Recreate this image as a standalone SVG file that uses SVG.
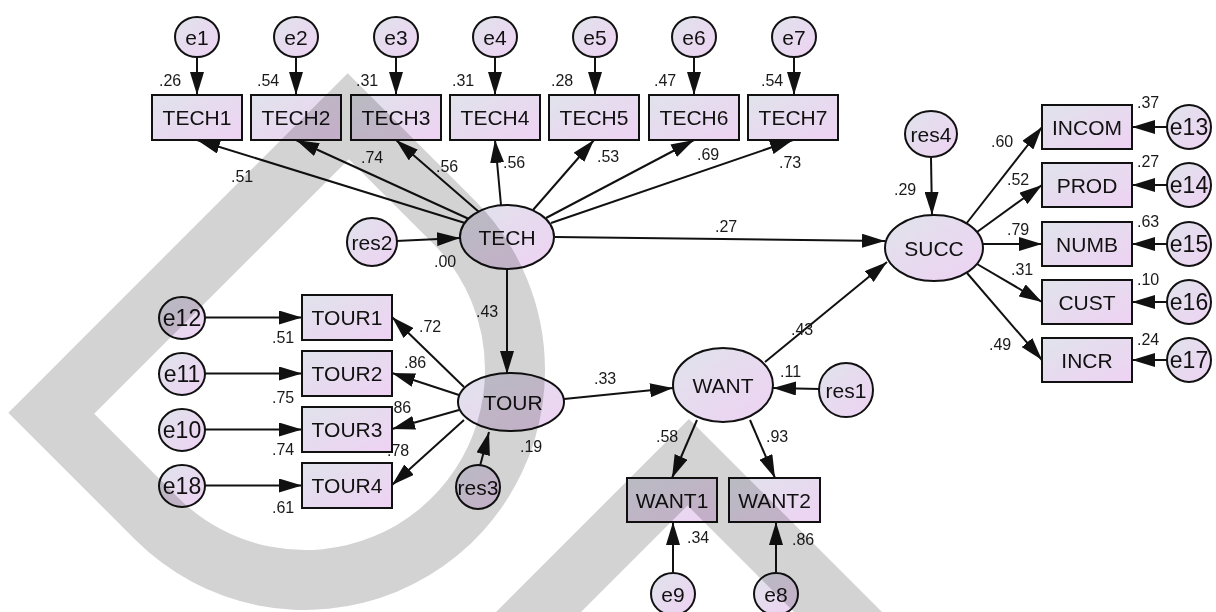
<svg xmlns="http://www.w3.org/2000/svg" width="1216" height="612" viewBox="0 0 1216 612">
  <defs>
    <linearGradient id="fillG" x1="0" y1="0" x2="1" y2="1">
      <stop offset="0" stop-color="#e0e3eb"/>
      <stop offset="1" stop-color="#eed2f3"/>
    </linearGradient>
    <marker id="ah" markerUnits="userSpaceOnUse" markerWidth="23" markerHeight="14" refX="23" refY="7" orient="auto">
      <path d="M0,0 L23,7 L0,14 Z" fill="#111"/>
    </marker>
    <style>
      .n { fill: url(#fillG); stroke: #111; stroke-width: 2; }
      .t { font-family: "Liberation Sans", Arial, sans-serif; fill: #111; text-anchor: middle; }
      .bx { font-size: 21px; }
      .el { font-size: 21px; }
      .ci { font-size: 21px; }
      .cw { font-size: 23px; }
      .c { stroke: #111; stroke-width: 2; fill: none; marker-end: url(#ah); }
      .v { font-family: "Liberation Sans", Arial, sans-serif; font-size: 16px; fill: #1a1a1a; }
      .wm { fill: #d3d3d3; mix-blend-mode: multiply; }
    </style>
  </defs>

  <rect width="1216" height="612" fill="#ffffff"/>

  <!-- connectors -->
  <g id="connectors">
    <!-- error terms onto TECH indicators -->
    <line class="c" x1="197" y1="57" x2="197" y2="95"/>
    <line class="c" x1="296" y1="57" x2="296" y2="95"/>
    <line class="c" x1="396" y1="57" x2="396" y2="95"/>
    <line class="c" x1="495" y1="57" x2="495" y2="95"/>
    <line class="c" x1="595" y1="57" x2="595" y2="95"/>
    <line class="c" x1="694" y1="57" x2="694" y2="95"/>
    <line class="c" x1="794" y1="57" x2="794" y2="95"/>
    <!-- TECH loadings -->
    <line class="c" x1="465" y1="223" x2="197" y2="140"/>
    <line class="c" x1="469" y1="219" x2="296" y2="140"/>
    <line class="c" x1="479" y1="212" x2="396" y2="140"/>
    <line class="c" x1="501" y1="205" x2="495" y2="140"/>
    <line class="c" x1="533" y1="210" x2="594" y2="140"/>
    <line class="c" x1="546" y1="218" x2="694" y2="140"/>
    <line class="c" x1="551" y1="223" x2="793" y2="140"/>
    <!-- structural paths -->
    <line class="c" x1="396" y1="241" x2="460" y2="238"/>
    <line class="c" x1="555" y1="237" x2="885" y2="241"/>
    <line class="c" x1="507" y1="269" x2="507" y2="374"/>
    <line class="c" x1="564" y1="399" x2="673" y2="388"/>
    <line class="c" x1="480" y1="466" x2="489" y2="432"/>
    <line class="c" x1="820" y1="389" x2="773" y2="388"/>
    <line class="c" x1="765" y1="362" x2="887" y2="262"/>
    <line class="c" x1="931" y1="158" x2="932" y2="215"/>
    <!-- TOUR loadings -->
    <line class="c" x1="464" y1="387" x2="392" y2="317"/>
    <line class="c" x1="459" y1="395" x2="392" y2="373"/>
    <line class="c" x1="459" y1="410" x2="392" y2="429"/>
    <line class="c" x1="464" y1="420" x2="392" y2="485"/>
    <line class="c" x1="205" y1="317.5" x2="302" y2="317.5"/>
    <line class="c" x1="205" y1="373.5" x2="302" y2="373.5"/>
    <line class="c" x1="205" y1="429.5" x2="302" y2="429.5"/>
    <line class="c" x1="205" y1="485.5" x2="302" y2="485.5"/>
    <!-- WANT loadings -->
    <line class="c" x1="697" y1="420" x2="672" y2="478"/>
    <line class="c" x1="750" y1="420" x2="775" y2="478"/>
    <line class="c" x1="673" y1="572" x2="673" y2="522"/>
    <line class="c" x1="776" y1="572" x2="776" y2="522"/>
    <!-- SUCC loadings -->
    <line class="c" x1="966" y1="224" x2="1042" y2="127"/>
    <line class="c" x1="977" y1="232" x2="1042" y2="185"/>
    <line class="c" x1="983" y1="244" x2="1042" y2="244"/>
    <line class="c" x1="977" y1="264" x2="1042" y2="302"/>
    <line class="c" x1="967" y1="273" x2="1042" y2="360"/>
    <line class="c" x1="1167" y1="127" x2="1132" y2="127"/>
    <line class="c" x1="1167" y1="185" x2="1132" y2="185"/>
    <line class="c" x1="1167" y1="244" x2="1132" y2="244"/>
    <line class="c" x1="1167" y1="302" x2="1132" y2="302"/>
    <line class="c" x1="1167" y1="360" x2="1132" y2="360"/>
  </g>

  <!-- estimates -->
  <g id="estimates" class="v">
    <text x="159" y="86">.26</text>
    <text x="257" y="86">.54</text>
    <text x="356" y="86">.31</text>
    <text x="452" y="86">.31</text>
    <text x="551" y="86">.28</text>
    <text x="654" y="86">.47</text>
    <text x="761" y="86">.54</text>
    <text x="231" y="182">.51</text>
    <text x="361" y="163">.74</text>
    <text x="436" y="172">.56</text>
    <text x="503" y="168">.56</text>
    <text x="597" y="162">.53</text>
    <text x="697" y="160">.69</text>
    <text x="779" y="168">.73</text>
    <text x="715" y="232">.27</text>
    <text x="434" y="267">.00</text>
    <text x="476" y="317">.43</text>
    <text x="419" y="332">.72</text>
    <text x="404" y="368">.86</text>
    <text x="389" y="413">.86</text>
    <text x="387" y="456">.78</text>
    <text x="272" y="343">.51</text>
    <text x="272" y="403">.75</text>
    <text x="272" y="455">.74</text>
    <text x="272" y="513">.61</text>
    <text x="520" y="452">.19</text>
    <text x="594" y="384">.33</text>
    <text x="780" y="377">.11</text>
    <text x="656" y="442">.58</text>
    <text x="766" y="442">.93</text>
    <text x="687" y="543">.34</text>
    <text x="792" y="545">.86</text>
    <text x="791" y="335">.43</text>
    <text x="894" y="195">.29</text>
    <text x="991" y="147">.60</text>
    <text x="1007" y="185">.52</text>
    <text x="1007" y="235">.79</text>
    <text x="1011" y="275">.31</text>
    <text x="989" y="350">.49</text>
    <text x="1137" y="108">.37</text>
    <text x="1137" y="167">.27</text>
    <text x="1137" y="227">.63</text>
    <text x="1137" y="285">.10</text>
    <text x="1137" y="345">.24</text>
  </g>

  <!-- error terms e1..e7 -->
  <g id="e1"><ellipse class="n" cx="197" cy="37" rx="22" ry="20"/><text class="t ci" x="197" y="44.5">e1</text></g>
  <g id="e2"><ellipse class="n" cx="296" cy="37" rx="22" ry="20"/><text class="t ci" x="296" y="44.5">e2</text></g>
  <g id="e3"><ellipse class="n" cx="396" cy="37" rx="22" ry="20"/><text class="t ci" x="396" y="44.5">e3</text></g>
  <g id="e4"><ellipse class="n" cx="495" cy="37" rx="22" ry="20"/><text class="t ci" x="495" y="44.5">e4</text></g>
  <g id="e5"><ellipse class="n" cx="595" cy="37" rx="22" ry="20"/><text class="t ci" x="595" y="44.5">e5</text></g>
  <g id="e6"><ellipse class="n" cx="694" cy="37" rx="22" ry="20"/><text class="t ci" x="694" y="44.5">e6</text></g>
  <g id="e7"><ellipse class="n" cx="794" cy="37" rx="22" ry="20"/><text class="t ci" x="794" y="44.5">e7</text></g>

  <!-- TECH indicators -->
  <g id="TECH1"><rect class="n" x="152" y="95" width="90" height="45"/><text class="t bx" x="197" y="125">TECH1</text></g>
  <g id="TECH2"><rect class="n" x="251" y="95" width="90" height="45"/><text class="t bx" x="296" y="125">TECH2</text></g>
  <g id="TECH3"><rect class="n" x="351" y="95" width="90" height="45"/><text class="t bx" x="396" y="125">TECH3</text></g>
  <g id="TECH4"><rect class="n" x="450" y="95" width="90" height="45"/><text class="t bx" x="495" y="125">TECH4</text></g>
  <g id="TECH5"><rect class="n" x="549" y="95" width="90" height="45"/><text class="t bx" x="594" y="125">TECH5</text></g>
  <g id="TECH6"><rect class="n" x="649" y="95" width="90" height="45"/><text class="t bx" x="694" y="125">TECH6</text></g>
  <g id="TECH7"><rect class="n" x="748" y="95" width="90" height="45"/><text class="t bx" x="793" y="125">TECH7</text></g>

  <!-- latent variables -->
  <g id="TECH"><ellipse class="n" cx="507" cy="237" rx="47" ry="32"/><text class="t el" x="507" y="244.5">TECH</text></g>
  <g id="TOUR"><ellipse class="n" cx="511" cy="402" rx="53" ry="29"/><text class="t el" x="513" y="409.5">TOUR</text></g>
  <g id="WANT"><ellipse class="n" cx="723" cy="385" rx="50" ry="37"/><text class="t el" x="723" y="392.5">WANT</text></g>
  <g id="SUCC"><ellipse class="n" cx="934" cy="248" rx="49" ry="33"/><text class="t el" x="934" y="255.5">SUCC</text></g>

  <!-- residuals -->
  <g id="res2"><ellipse class="n" cx="372" cy="242" rx="25" ry="24"/><text class="t ci" x="372" y="249.5">res2</text></g>
  <g id="res3"><ellipse class="n" cx="478" cy="487" rx="22" ry="22"/><text class="t ci" x="478" y="494.5">res3</text></g>
  <g id="res1"><ellipse class="n" cx="846" cy="390" rx="27" ry="27"/><text class="t ci" x="846" y="397.5">res1</text></g>
  <g id="res4"><ellipse class="n" cx="931" cy="134" rx="26" ry="23"/><text class="t ci" x="931" y="141.5">res4</text></g>

  <!-- TOUR indicators and their error terms -->
  <g id="TOUR1"><rect class="n" x="302" y="295" width="90" height="45"/><text class="t bx" x="347" y="325">TOUR1</text></g>
  <g id="TOUR2"><rect class="n" x="302" y="351" width="90" height="45"/><text class="t bx" x="347" y="381">TOUR2</text></g>
  <g id="TOUR3"><rect class="n" x="302" y="407" width="90" height="45"/><text class="t bx" x="347" y="437">TOUR3</text></g>
  <g id="TOUR4"><rect class="n" x="302" y="463" width="90" height="45"/><text class="t bx" x="347" y="493">TOUR4</text></g>
  <g id="e12"><ellipse class="n" cx="182" cy="318" rx="23" ry="21"/><text class="t cw" x="182" y="326">e12</text></g>
  <g id="e11"><ellipse class="n" cx="182" cy="374" rx="23" ry="21"/><text class="t cw" x="182" y="382">e11</text></g>
  <g id="e10"><ellipse class="n" cx="182" cy="430" rx="23" ry="21"/><text class="t cw" x="182" y="438">e10</text></g>
  <g id="e18"><ellipse class="n" cx="182" cy="486" rx="23" ry="21"/><text class="t cw" x="182" y="494">e18</text></g>

  <!-- WANT indicators -->
  <g id="WANT1"><rect class="n" x="627" y="478" width="90" height="44"/><text class="t bx" x="672" y="507.5">WANT1</text></g>
  <g id="WANT2"><rect class="n" x="729" y="478" width="91" height="44"/><text class="t bx" x="774.5" y="507.5">WANT2</text></g>
  <g id="e9"><ellipse class="n" cx="673" cy="594" rx="22" ry="21"/><text class="t ci" x="673" y="601.5">e9</text></g>
  <g id="e8"><ellipse class="n" cx="776" cy="594" rx="22" ry="21"/><text class="t ci" x="776" y="601.5">e8</text></g>

  <!-- SUCC indicators -->
  <g id="INCOM"><rect class="n" x="1042" y="105" width="90" height="44"/><text class="t bx" x="1087" y="134.5">INCOM</text></g>
  <g id="PROD"><rect class="n" x="1042" y="163" width="90" height="44"/><text class="t bx" x="1087" y="192.5">PROD</text></g>
  <g id="NUMB"><rect class="n" x="1042" y="222" width="90" height="44"/><text class="t bx" x="1087" y="251.5">NUMB</text></g>
  <g id="CUST"><rect class="n" x="1042" y="280" width="90" height="44"/><text class="t bx" x="1087" y="309.5">CUST</text></g>
  <g id="INCR"><rect class="n" x="1042" y="338" width="90" height="44"/><text class="t bx" x="1087" y="367.5">INCR</text></g>
  <g id="e13"><ellipse class="n" cx="1189" cy="127" rx="22" ry="22"/><text class="t cw" x="1189" y="135">e13</text></g>
  <g id="e14"><ellipse class="n" cx="1189" cy="185" rx="22" ry="22"/><text class="t cw" x="1189" y="193">e14</text></g>
  <g id="e15"><ellipse class="n" cx="1189" cy="244" rx="22" ry="22"/><text class="t cw" x="1189" y="252">e15</text></g>
  <g id="e16"><ellipse class="n" cx="1189" cy="302" rx="22" ry="22"/><text class="t cw" x="1189" y="310">e16</text></g>
  <g id="e17"><ellipse class="n" cx="1189" cy="360" rx="22" ry="22"/><text class="t cw" x="1189" y="368">e17</text></g>

  <!-- translucent gray mark laid over the drawing -->
  <g id="mark">
    <path class="wm" fill-rule="evenodd" d="M347.7,73.3 L474.7,200.3 A240,240 0 0 1 545,370 A240,240 0 0 1 135.3,539.7 L8.3,412.7 Z M348.8,159.2 L94.2,413.8 L177.7,497.3 A180,180 0 0 0 485,370 A180,180 0 0 0 432.3,242.7 Z"/>
    <path class="wm" d="M389,719 L689,419 L989,719 L901,719 L687.5,505.5 L474,719 Z"/>
  </g>
</svg>
